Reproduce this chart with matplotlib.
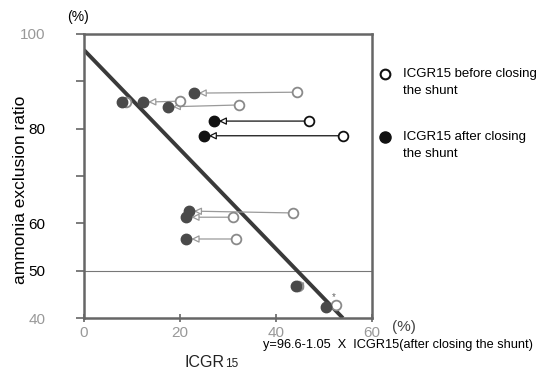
import numpy as np
import matplotlib
matplotlib.use("Agg")
import matplotlib.pyplot as plt

plt.rcParams['font.family'] = ['Liberation Sans', 'DejaVu Sans']

# ICGR15 before / after closing the shunt, ammonia exclusion ratio (%)
before_x = [44.4, 8.8, 19.9, 32.2, 46.9, 54.0, 43.5, 31.0, 31.6, 44.5, 52.5]
before_y = [87.7, 85.6, 85.8, 85.0, 81.6, 78.5, 62.2, 61.3, 56.7, 46.8, 42.7]
after_x = [22.8, 7.9, 12.3, 17.4, 27.0, 24.9, 21.8, 21.3, 21.3, 44.1, 50.4]
after_y = [87.5, 85.6, 85.6, 84.6, 81.6, 78.5, 62.6, 61.3, 56.7, 46.8, 42.3]
dark = [False, False, False, False, True, True, False, False, False, False, False]

# regression after closing
a, b = 96.6, -1.05

fig = plt.figure(figsize=(5.53, 3.69), dpi=100)
ax = fig.add_axes([0.152, 0.138, 0.521, 0.770])

ax.set_xlim(0, 60)
ax.set_ylim(40, 100)

ax.axhline(50, color='#777777', lw=0.8, zorder=1)

xr = np.array([0, (40 - a) / b])
ax.plot(xr, a + b * xr, color='#3a3a3a', lw=2.8, zorder=2, solid_capstyle='butt')

for i in range(len(before_x)):
    if dark[i]:
        fc, ec, lc = '#111111', '#111111', '#111111'
    else:
        fc, ec, lc = '#4a4a4a', '#8a8a8a', '#9a9a9a'
    ax.annotate('', xy=(after_x[i], after_y[i]), xytext=(before_x[i], before_y[i]),
                arrowprops=dict(arrowstyle='-|>,head_length=0.45,head_width=0.22',
                                fc='white', ec=lc, lw=0.9,
                                shrinkA=3.5, shrinkB=3.6), zorder=3)
    ax.plot(before_x[i], before_y[i], 'o', ms=7, mfc='white', mec=ec, mew=1.3, zorder=4)
    ax.plot(after_x[i], after_y[i], 'o', ms=7.5, mfc=fc, mec=fc, zorder=4)

ax.text(52.0, 44.5, '*', fontsize=7, color='#666666', ha='center', va='center')

for s in ax.spines.values():
    s.set_color('#666666')
    s.set_linewidth(1.8)

ax.set_yticks([40, 50, 60, 80, 100])
ax.set_yticks([70, 90], minor=True)
ax.set_xticks([0, 20, 40, 60])
ax.tick_params(axis='y', which='both', direction='out', length=6, width=1.2,
               color='#666666', labelsize=11, pad=22)
ax.tick_params(axis='x', direction='inout', length=6, width=1.2,
               color='#666666', labelsize=11, labelcolor='#999999', pad=3)
for lab in ax.get_yticklabels():
    if lab.get_text() in ('100', '40'):
        lab.set_color('#999999')

ax.set_ylabel('ammonia exclusion ratio', fontsize=12.5)
ax.yaxis.set_label_coords(-0.195, 0.45)

fig.text(78 / 553, 1 - 17 / 369, '(%)', fontsize=10, ha='center', va='center')
fig.text(392 / 553, 1 - 327 / 369, '(%)', fontsize=11, ha='left', va='center', color='#444444')

fig.text(185 / 553, 1 - 367 / 369, 'ICGR', fontsize=11.5, ha='left',
         va='baseline', color='#222222')
fig.text(225 / 553, 1 - 367 / 369, '15', fontsize=8.5, ha='left', va='baseline',
         color='#222222')
fig.text(263 / 553, 1 - 345 / 369, 'y=96.6-1.05  X  ICGR15(after closing the shunt)',
         fontsize=9.2, ha='left', va='center')

# legend
fig.lines.append(plt.Line2D([385 / 553], [1 - 74 / 369], marker='o', ms=7,
                            mfc='white', mec='#111111', mew=1.5,
                            transform=fig.transFigure))
fig.lines.append(plt.Line2D([385 / 553], [1 - 137 / 369], marker='o', ms=8,
                            mfc='#111111', mec='#111111',
                            transform=fig.transFigure))
fig.text(403 / 553, 1 - 74 / 369, 'ICGR15 before closing', fontsize=9.5, va='center')
fig.text(403 / 553, 1 - 91 / 369, 'the shunt', fontsize=9.5, va='center')
fig.text(403 / 553, 1 - 137 / 369, 'ICGR15 after closing', fontsize=9.5, va='center')
fig.text(403 / 553, 1 - 154 / 369, 'the shunt', fontsize=9.5, va='center')

fig.savefig('out.png', dpi=100)
